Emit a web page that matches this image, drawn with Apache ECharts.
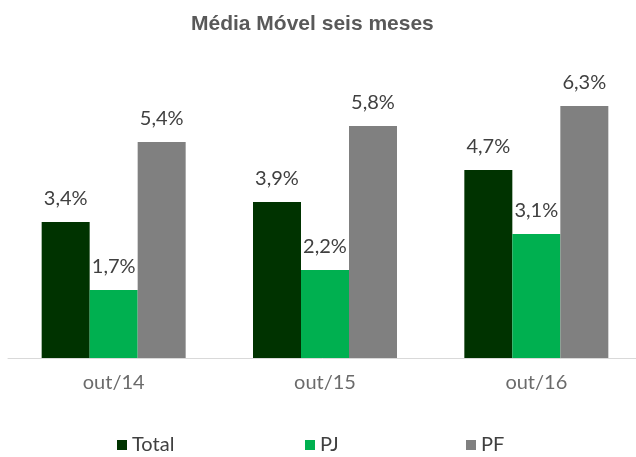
<!DOCTYPE html>
<html>
<head>
<meta charset="utf-8">
<script src="https://cdn.jsdelivr.net/npm/echarts@6/dist/echarts.min.js"></script>
<style>
  html, body { margin: 0; padding: 0; background: #fff; }
  #chart { width: 636px; height: 457px; }
</style>
</head>
<body>
<div id="chart"></div>
<script>
var categories = ['out/14', 'out/15', 'out/16'];
var seriesNames = ['Total', 'PJ', 'PF'];
var totalValues = [3.4, 3.9, 4.7];
var pjValues = [1.7, 2.2, 3.1];
var pfValues = [5.4, 5.8, 6.3];

var chart = echarts.init(document.getElementById('chart'));

function pct(p) {
  return p.value.toFixed(1).replace('.', ',') + '%';
}

var barLabel = {
  show: true,
  position: 'top',
  distance: 13,
  formatter: pct,
  color: '#404040',
  fontSize: 20,
  fontFamily: 'Lato'
};

// one legend per entry so each sits where Excel put it
var legendLeft = [117, 305, 466];
var legends = seriesNames.map(function (n, i) {
  return {
    data: [n],
    left: legendLeft[i],
    top: 435,
    padding: 0,
    icon: 'rect',
    itemWidth: 10,
    itemHeight: 10,
    itemGap: 0,
    textStyle: {
      fontFamily: 'Lato',
      fontSize: 20,
      color: '#404040'
    }
  };
});

var option = {
  animation: false,
  title: {
    text: 'Média Móvel seis meses',
    left: 186,
    top: 9,
    textStyle: {
      fontFamily: 'Liberation Sans',
      fontWeight: 'bold',
      fontSize: 21,
      color: '#595959'
    }
  },
  legend: legends,
  grid: {
    left: 8,
    top: 78,
    width: 634,
    height: 280,
    outerBoundsMode: 'none'
  },
  xAxis: {
    type: 'category',
    data: categories,
    axisLine: { lineStyle: { color: '#d9d9d9', width: 1 } },
    axisTick: { show: false },
    axisLabel: {
      margin: 15,
      fontFamily: 'Lato',
      fontSize: 20,
      color: '#6b6b6b'
    }
  },
  yAxis: {
    type: 'value',
    min: 0,
    max: 7,
    show: false,
    splitLine: { show: false }
  },
  series: [
    {
      name: 'Total',
      type: 'bar',
      data: totalValues,
      barWidth: 48,
      barGap: '0%',
      itemStyle: { color: '#003300' },
      label: barLabel
    },
    {
      name: 'PJ',
      type: 'bar',
      data: pjValues,
      barWidth: 48,
      barGap: '0%',
      itemStyle: { color: '#00b050' },
      label: barLabel
    },
    {
      name: 'PF',
      type: 'bar',
      data: pfValues,
      barWidth: 48,
      barGap: '0%',
      itemStyle: { color: '#808080' },
      label: barLabel
    }
  ]
};

chart.setOption(option);
</script>
</body>
</html>
